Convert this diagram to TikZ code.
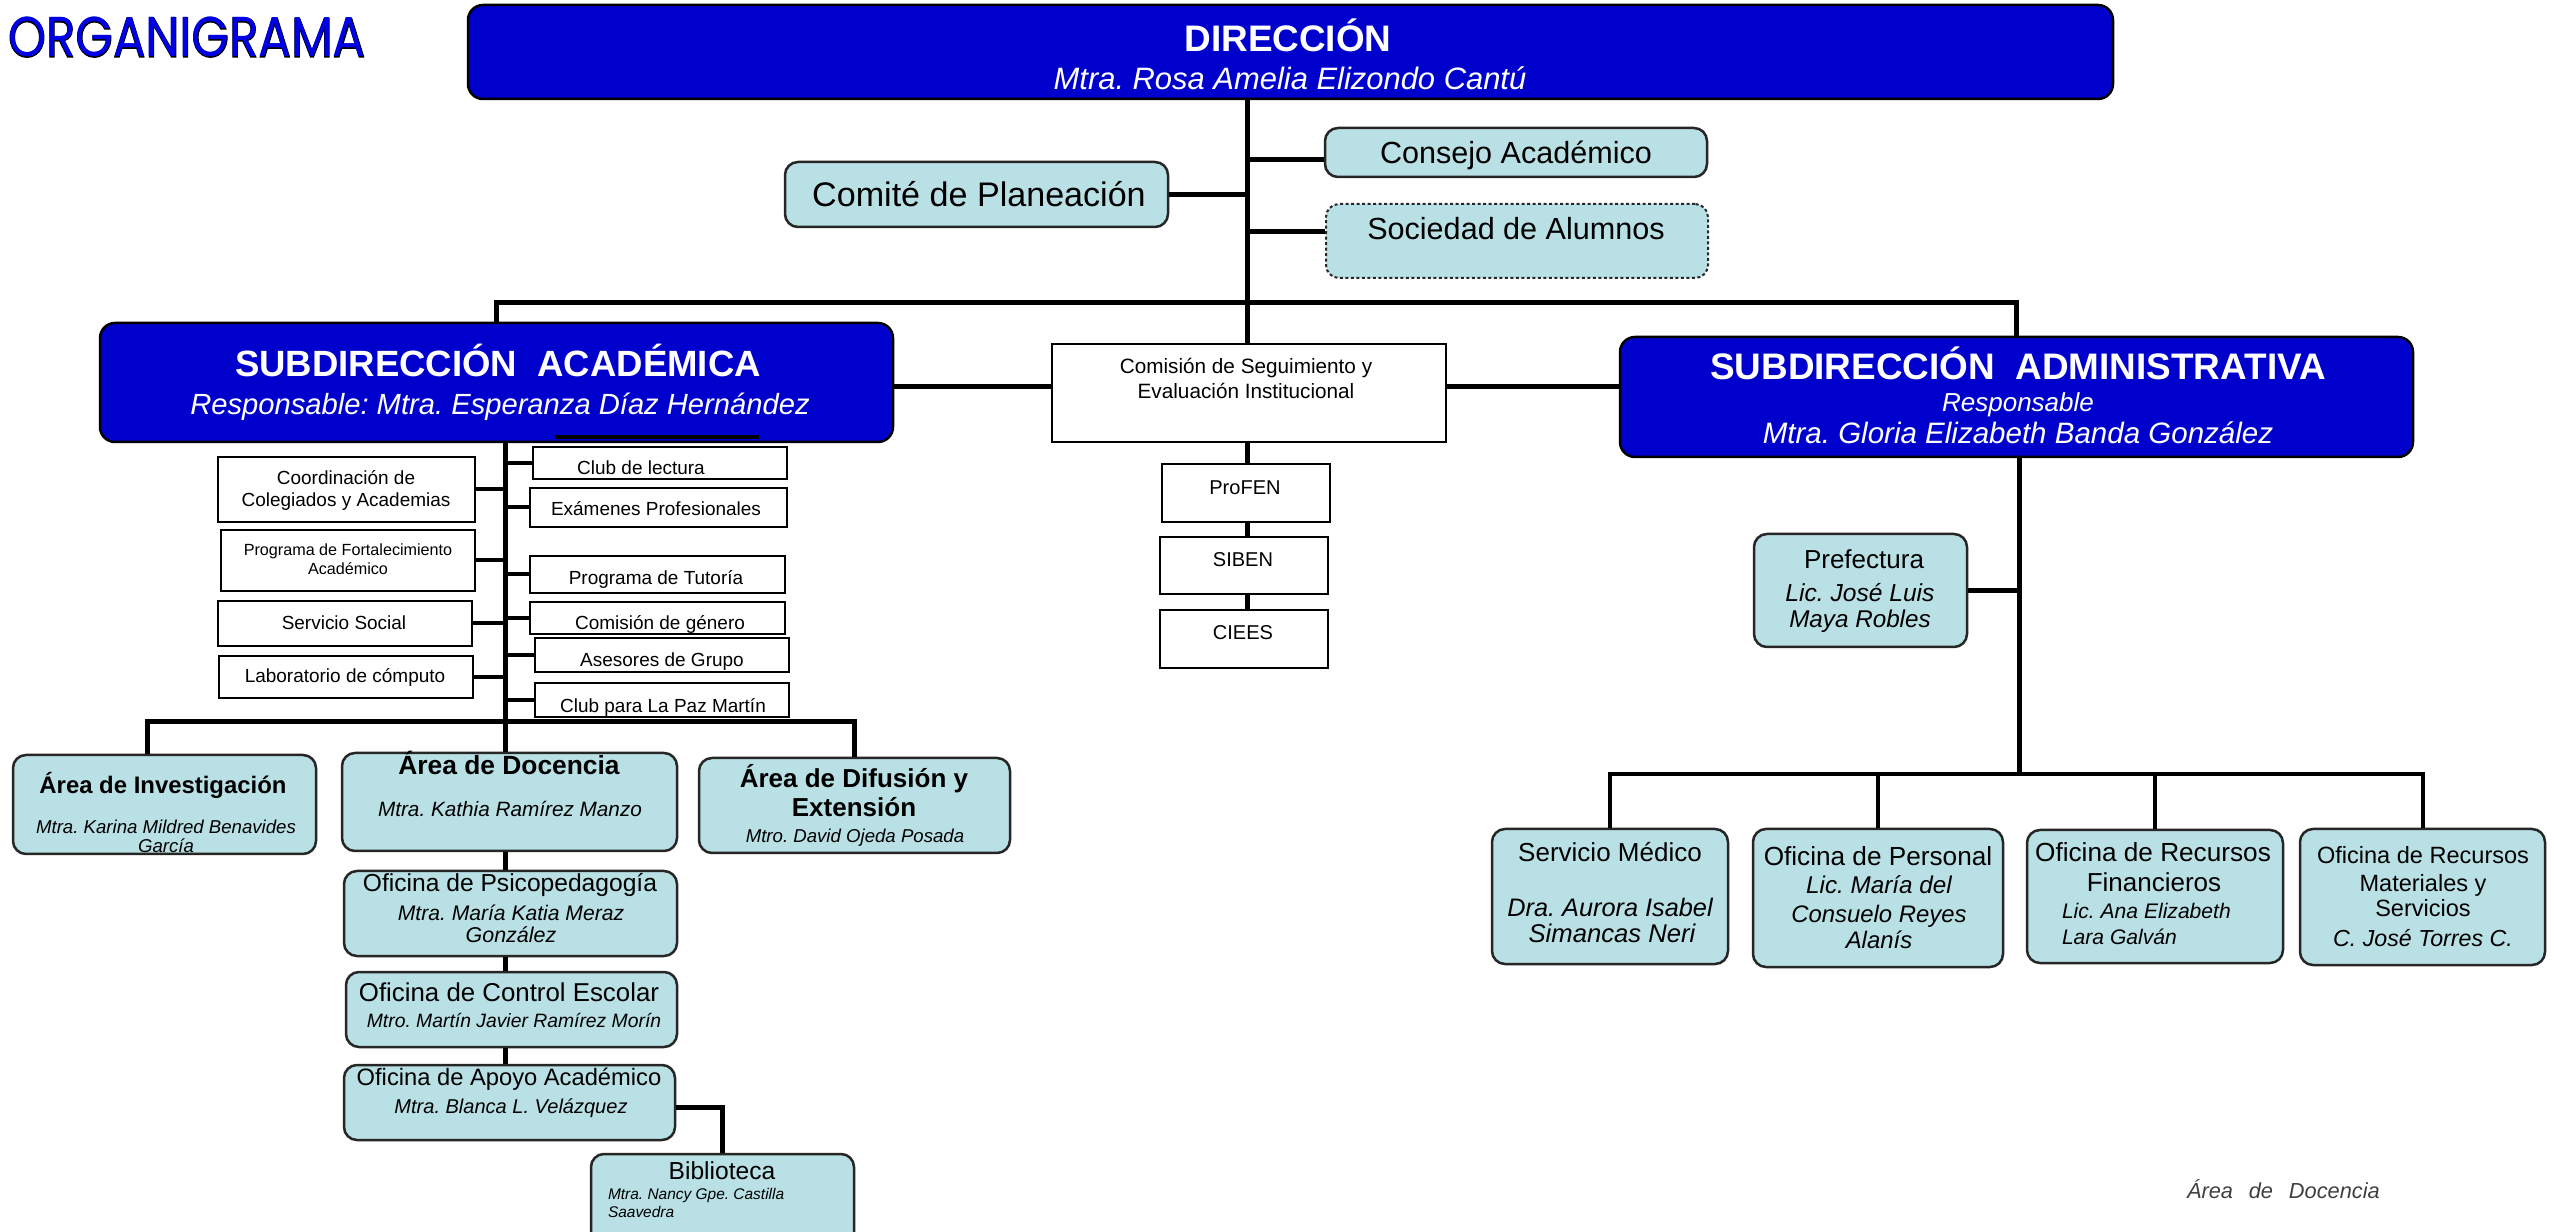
\documentclass[tikz,border=0pt]{standalone}
\usepackage{fontspec}
\usepackage{graphicx}
\setmainfont{Liberation Sans}
\newfontfamily\orgfont{Poppins}
\newfontfamily\orgfontB{Poppins}[FakeBold=2]
\definecolor{dirblue}{RGB}{0,0,204}
\definecolor{titblue}{RGB}{0,0,230}
\definecolor{tealc}{RGB}{185,224,228}
\definecolor{footg}{RGB}{64,64,64}
\newcommand\fs[1]{\fontsize{#1}{#1}\selectfont}
\newcommand\bx[6][]{\node[#1, minimum width={(#5-#3)*0.1mm}, minimum height={(#6-#4)*0.1mm}] (#2) at ({(#3+#5)/2},{(#4+#6)/2}) {};}
\newcommand\tl[5][]{\node[txt,#1] (#2) at (#3,#4) {#5};}
\frenchspacing
\begin{document}
\begin{tikzpicture}[x=0.1mm,y=-0.1mm,
 txt/.style={inner sep=0pt, outer sep=0pt, anchor=base},
 it/.style={font=\itshape},
 bfs/.style={font=\bfseries},
 wt/.style={text=white},
 dirbox/.style={draw=black, fill=dirblue, line width=0.25mm, rounded corners=1.5mm, inner sep=0pt},
 tealbox/.style={draw=black!85, fill=tealc, line width=0.25mm, rounded corners=1.3mm, inner sep=0pt},
 plainbox/.style={draw=black, fill=white, line width=0.2mm, inner sep=0pt},
 con/.style={line width=0.5mm, black},
 conthin/.style={line width=0.4mm, black}]
\useasboundingbox (0,0) rectangle (2554,1232);
\fill[white] (0,0) rectangle (2554,1232);

% coordinates used by connectors
\coordinate (tX) at (1247,0);
\coordinate (barY) at (0,303);
\coordinate (aX) at (2019,0);
\coordinate (lowbarY) at (0,774);
\coordinate (lX) at (505,0);
\coordinate (lbY) at (0,722);
\coordinate (invX) at (147,0);

% ---------- boxes ----------
\bx[dirbox]{dir}{468}{5}{2113}{99}
\bx[tealbox]{consejo}{1325}{128}{1707}{177}
\bx[tealbox, dash pattern=on 0.3mm off 0.25mm, line width=0.2mm]{sociedad}{1326}{204}{1708}{278}
\bx[tealbox]{comite}{785}{162}{1168}{227}
\bx[dirbox]{subacad}{100}{323}{893}{442}
\bx[plainbox]{comision}{1052}{344}{1446}{442}
\bx[plainbox]{profen}{1162}{464}{1330}{522}
\bx[plainbox]{siben}{1160}{537}{1328}{594}
\bx[plainbox]{ciees}{1160}{610}{1328}{668}
\bx[dirbox]{subadmin}{1620}{337}{2413}{457}
\bx[tealbox]{prefectura}{1754}{534}{1967}{647}
\bx[tealbox]{medico}{1492}{829}{1728}{964}
\bx[tealbox]{personal}{1753}{829}{2003}{967}
\bx[tealbox]{financieros}{2027}{830}{2283}{963}
\bx[tealbox]{materiales}{2300}{829}{2545}{965}
\bx[plainbox]{coord}{218}{457}{475}{522}
\bx[plainbox]{fortal}{221}{530}{475}{591}
\bx[plainbox]{servsoc}{218}{601}{472}{646}
\bx[plainbox]{lab}{219}{656}{473}{698}
\bx[plainbox]{club}{533}{447}{787}{479}
\bx[plainbox]{examenes}{530}{488}{787}{527}
\bx[plainbox]{tutoria}{530}{556}{785}{593}
\bx[plainbox]{genero}{530}{602}{785}{634}
\bx[plainbox]{asesores}{535}{638}{789}{672}
\bx[plainbox]{paz}{535}{683}{789}{717}
\bx[tealbox]{investigacion}{13}{755}{316}{854}
\bx[tealbox]{docencia}{342}{753}{677}{851}
\bx[tealbox]{difusion}{699}{758}{1010}{853}
\bx[tealbox]{psico}{344}{871}{677}{956}
\bx[tealbox]{control}{346}{972}{677}{1047}
\bx[tealbox]{apoyo}{344}{1065}{675}{1140}
\bx[tealbox]{biblio}{591}{1154}{854}{1250}

% ---------- connectors ----------
\draw[con] (dir.south -| tX) -- (comision.north -| tX);
\draw[con] ([yshift=-0.75mm]consejo.west) -- ([yshift=-0.75mm]consejo.west -| tX);
\draw[con] (comite.east) -- (comite.east -| tX);
\draw[con] ([yshift=0.9mm]sociedad.west) -- ([yshift=0.9mm]sociedad.west -| tX);
\draw[con] (subacad.north) |- (barY -| subadmin.north) -- (subadmin.north);
\draw[con] ([yshift=-0.45mm]subacad.east) -- ([yshift=-0.45mm]subacad.east -| comision.west);
\draw[con] ([yshift=0.6mm]comision.east) -- ([yshift=0.6mm]comision.east -| subadmin.west);
\draw[con] (comision.south -| tX) -- (profen.north -| tX);
\draw[con] (profen.south -| tX) -- (siben.north -| tX);
\draw[con] (siben.south -| tX) -- (ciees.north -| tX);
% administrative branch
\draw[con] (subadmin.south -| aX) -- (lowbarY -| aX);
\draw[con] (prefectura.east) -- (prefectura.east -| aX);
\draw[conthin] (medico.north) |- (lowbarY -| materiales.north) -- (materiales.north);
\draw[conthin] (personal.north) -- (personal.north |- lowbarY);
\draw[conthin] (financieros.north) -- (financieros.north |- lowbarY);
% academic branch
\draw[con] (subacad.south -| lX) -- (docencia.north -| lX);
\foreach \n in {coord,fortal,servsoc,lab}{\draw[conthin] (\n.east) -- (\n.east -| lX);}
\foreach \n in {club,examenes,tutoria,genero,asesores,paz}{\draw[conthin] (\n.west) -- (\n.west -| lX);}
\draw[con] (investigacion.north -| invX) |- (lbY -| difusion.north) -- (difusion.north);
\draw[con] (docencia.south -| lX) -- (psico.north -| lX);
\draw[con] (psico.south -| lX) -- (control.north -| lX);
\draw[con] (control.south -| lX) -- (apoyo.north -| lX);
\draw[con] ([yshift=-0.45mm]apoyo.east) -| (biblio.north);
\draw[line width=0.35mm] (555,437) -- (759,437);

% ---------- texts ----------
\node[txt, anchor=base west] (title) at (8,57) {\fs{16}\scalebox{0.86}[1]{\rlap{\orgfontB\color{black}ORGANIGRAMA}{\orgfont\color{titblue}ORGANIGRAMA}}};
\tl[bfs,wt]{dirT1}{1288}{52}{\fs{10.5}DIRECCIÓN}
\tl[it,wt]{dirT2}{1290}{90}{\fs{8.8}Mtra. Rosa Amelia Elizondo Cantú}
\tl{consejoT}{1516}{164}{\fs{8.7}Consejo Académico}
\tl{sociedadT}{1516}{240}{\fs{8.7}Sociedad de Alumnos}
\tl{comiteT}{979}{207}{\fs{9.7}Comité de Planeación}
\tl[bfs,wt]{subacadT1}{498}{377}{\fs{10.4}SUBDIRECCIÓN\ \ ACADÉMICA}
\tl[it,wt]{subacadT2}{500}{415}{\fs{8.3}Responsable: Mtra. Esperanza Díaz Hernández}
\tl[bfs,wt]{subadminT1}{2018}{380}{\fs{10.5}SUBDIRECCIÓN\ \ ADMINISTRATIVA}
\tl[it,wt]{subadminT2}{2018}{412}{\fs{7.4}Responsable}
\tl[it,wt]{subadminT3}{2018}{444}{\fs{8.4}Mtra. Gloria Elizabeth Banda González}
\tl{comisionT1}{1246}{374}{\fs{5.9}Comisión de Seguimiento y}
\tl{comisionT2}{1246}{399}{\fs{5.9}Evaluación Institucional}
\tl{profenT}{1245}{495}{\fs{5.7}ProFEN}
\tl{sibenT}{1243}{567}{\fs{5.7}SIBEN}
\tl{cieesT}{1243}{640}{\fs{5.7}CIEES}
\tl{prefT1}{1864}{569}{\fs{7.4}Prefectura}
\tl[it]{prefT2}{1860}{602}{\fs{7}Lic. José Luis}
\tl[it]{prefT3}{1860}{628}{\fs{6.9}Maya Robles}
\tl{medicoT1}{1610}{861}{\fs{7.4}Servicio Médico}
\tl[it]{medicoT2}{1610}{917}{\fs{7.2}Dra. Aurora Isabel}
\tl[it]{medicoT3}{1612}{943}{\fs{7.3}Simancas Neri}
\tl{personalT1}{1878}{865}{\fs{7.45}Oficina de Personal}
\tl[it]{personalT2}{1879}{893}{\fs{6.9}Lic. María del}
\tl[it]{personalT3}{1879}{922}{\fs{6.8}Consuelo Reyes}
\tl[it]{personalT4}{1879}{948}{\fs{6.8}Alanís}
\tl{finT1}{2153}{862}{\fs{7.45}Oficina de Recursos}
\tl{finT2}{2154}{892}{\fs{7.4}Financieros}
\tl[it,anchor=base west]{finT3}{2062}{919}{\fs{6}Lic. Ana Elizabeth}
\tl[it,anchor=base west]{finT4}{2062}{944}{\fs{6}Lara Galván}
\tl{matT1}{2423}{863}{\fs{6.7}Oficina de Recursos}
\tl{matT2}{2423}{891}{\fs{6.7}Materiales y}
\tl{matT3}{2423}{917}{\fs{6.7}Servicios}
\tl[it]{matT4}{2423}{946}{\fs{6.6}C. José Torres C.}
\tl{coordT1}{346}{485}{\fs{5.4}Coordinación de}
\tl{coordT2}{346}{507}{\fs{5.4}Colegiados y Academias}
\tl{fortalT1}{348}{556}{\fs{4.6}Programa de Fortalecimiento}
\tl{fortalT2}{348}{575}{\fs{4.6}Académico}
\tl{servsocT}{344}{630}{\fs{5.4}Servicio Social}
\tl{labT}{345}{683}{\fs{5.4}Laboratorio de cómputo}
\tl{clubT}{641}{475}{\fs{5.4}Club de lectura}
\tl{examenesT}{656}{516}{\fs{5.4}Exámenes Profesionales}
\tl{tutoriaT}{656}{585}{\fs{5.4}Programa de Tutoría}
\tl{generoT}{660}{630}{\fs{5.4}Comisión de género}
\tl{asesoresT}{662}{667}{\fs{5.4}Asesores de Grupo}
\tl{pazT}{663}{712}{\fs{5.4}Club para La Paz Martín}
\tl[bfs]{invT1}{163}{794}{\fs{6.8}Área de Investigación}
\tl[it]{invT2}{166}{833}{\fs{5.3}Mtra. Karina Mildred Benavides}
\tl[it]{invT3}{166}{852}{\fs{5.3}García}
\tl[bfs]{docT1}{509}{775}{\fs{7.5}Área de Docencia}
\tl[it]{docT2}{510}{816}{\fs{5.9}Mtra. Kathia Ramírez Manzo}
\tl[bfs]{difT1}{854}{788}{\fs{7.4}Área de Difusión y}
\tl[bfs]{difT2}{854}{817}{\fs{7.4}Extensión}
\tl[it]{difT3}{855}{842}{\fs{5.3}Mtro. David Ojeda Posada}
\tl{psicoT1}{510}{891}{\fs{7}Oficina de Psicopedagogía}
\tl[it]{psicoT2}{511}{920}{\fs{6}Mtra. María Katia Meraz}
\tl[it]{psicoT3}{511}{943}{\fs{6.1}González}
\tl{controlT1}{509}{1002}{\fs{7.35}Oficina de Control Escolar}
\tl[it]{controlT2}{514}{1027}{\fs{5.5}Mtro. Martín Javier Ramírez Morín}
\tl{apoyoT1}{509}{1085}{\fs{6.75}Oficina de Apoyo Académico}
\tl[it]{apoyoT2}{511}{1113}{\fs{5.7}Mtra. Blanca L. Velázquez}
\tl{biblioT1}{722}{1179}{\fs{7}Biblioteca}
\tl[it,anchor=base west]{biblioT2}{608}{1199}{\fs{4.4}Mtra. Nancy Gpe. Castilla}
\tl[it,anchor=base west]{biblioT3}{608}{1217}{\fs{4.4}Saavedra}
\tl[it,anchor=base west,text=footg]{footer}{2187}{1198}{\fs{6.2}Área\hspace{0.45em} de\hspace{0.45em} Docencia}
\end{tikzpicture}
\end{document}
